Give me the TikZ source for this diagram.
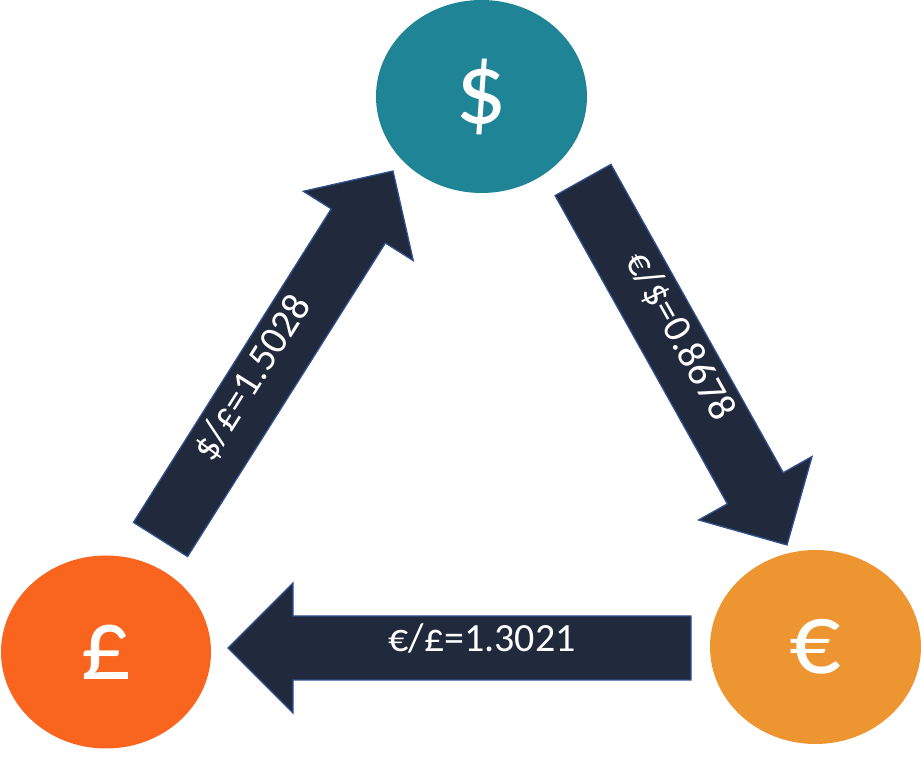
\documentclass[tikz,border=0pt]{standalone}
\usepackage{fontspec}
\setmainfont{Carlito}
\usetikzlibrary{shapes.geometric,calc}
\definecolor{usdcol}{HTML}{1F8596}
\definecolor{gbpcol}{HTML}{F9641F}
\definecolor{eurcol}{HTML}{ED9631}
\definecolor{arrowfill}{HTML}{202A3C}
\definecolor{arrowline}{HTML}{2F528F}
\tikzset{
  coin/.style={ellipse, inner sep=0pt, minimum width=211pt, minimum height=193pt,
    text=white, font=\fontsize{102}{110}\selectfont},
  fatarrow/.style={fill=arrowfill, draw=arrowline, line width=1.3pt, line join=miter},
  ratelabel/.style={text=white, font=\fontsize{40}{44}\selectfont, inner sep=0pt,
    text height=0.63em, text depth=0pt, anchor=center}
}
% #1 tail, #2 tip, #3 prefix, #4 label, #5 label rotation, #6 label position along shaft
\newcommand\fxarrow[6]{%
  \coordinate (#3hb) at ($(#2)!65pt!(#1)$);
  \draw[fatarrow]
    ($(#1)!32pt!90:(#2)$) -- ($(#3hb)!32pt!90:(#2)$) -- ($(#3hb)!65pt!90:(#2)$)
    -- (#2) -- ($(#3hb)!65pt!-90:(#2)$) -- ($(#3hb)!32pt!-90:(#2)$)
    -- ($(#1)!32pt!-90:(#2)$) -- cycle;
  \node[ratelabel, rotate=#5] (#3lab) at ($(#1)!#6!(#3hb)$) {#4};
}
\begin{document}
\begin{tikzpicture}[x=1pt,y=1pt]
\useasboundingbox (0,0) rectangle (921,778);
\node[coin, fill=usdcol] (usd) at (481.5,681.5) {\$};
\node[coin, fill=gbpcol, minimum width=210pt] (gbp) at (106,126) {£};
\node[coin, fill=eurcol, minimum height=194pt] (eur) at (815.5,131) {€};
% arrow end points
\coordinate (a1t) at (160.5,238.5);
\coordinate (a1h) at (393,607);
\coordinate (a2t) at (583,598);
\coordinate (a2h) at (787,233);
\coordinate (a3t) at (691,130);
\coordinate (a3h) at (228,130);
\fxarrow{a1t}{a1h}{a}{\$/£=1.5028}{57.75}{0.5}
\fxarrow{a2t}{a2h}{b}{€/\$=0.8678}{-60.8}{0.52}
\fxarrow{a3t}{a3h}{c}{€/£=1.3021}{0}{0.525}
\end{tikzpicture}
\end{document}
